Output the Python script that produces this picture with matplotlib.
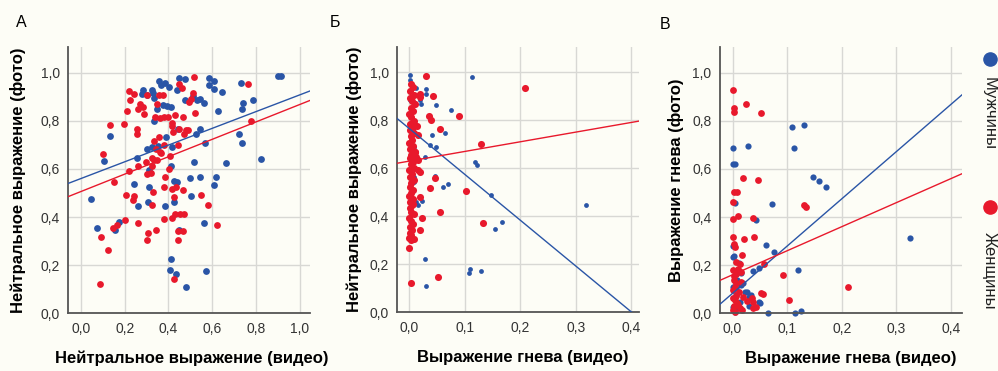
import matplotlib.pyplot as plt
from matplotlib.lines import Line2D
import numpy as np

plt.rcParams['font.family'] = ['Liberation Sans', 'DejaVu Sans']

BLUE = '#2a55a6'
RED = '#e8192c'
BG = '#fdfdf6'

# ---- panel A: neutral video vs neutral photo
a_m_x = [0.285, 0.280, 0.303, 0.326, 0.327, 0.358, 0.364, 0.384, 0.403, 0.437, 0.449, 0.476,
         0.475, 0.510, 0.530, 0.543, 0.562, 0.583, 0.586, 0.607, 0.607, 0.645, 0.729, 0.738,
         0.737, 0.787, 0.901, 0.912, 0.333, 0.347, 0.373, 0.391, 0.411, 0.332, 0.388, 0.444,
         0.524, 0.546, 0.565, 0.626, 0.723, 0.734, 0.822, 0.662, 0.304, 0.326, 0.352, 0.417,
         0.257, 0.309, 0.105, 0.134, 0.046, 0.075, 0.157, 0.175, 0.244, 0.263, 0.306, 0.309,
         0.384, 0.425, 0.441, 0.449, 0.496, 0.505, 0.543, 0.606, 0.619, 0.563, 0.569, 0.411,
         0.406, 0.434, 0.481, 0.517, 0.411, 0.426]
a_m_y = [0.928, 0.913, 0.908, 0.929, 0.917, 0.965, 0.947, 0.958, 0.939, 0.928, 0.979, 0.974,
         0.886, 0.903, 0.886, 0.889, 0.875, 0.979, 0.947, 0.967, 0.933, 0.919, 0.958, 0.875,
         0.847, 0.888, 0.988, 0.988, 0.896, 0.851, 0.865, 0.861, 0.857, 0.801, 0.733, 0.764,
         0.746, 0.764, 0.706, 0.842, 0.747, 0.708, 0.642, 0.625, 0.681, 0.692, 0.697, 0.692,
         0.644, 0.597, 0.633, 0.736, 0.476, 0.353, 0.346, 0.379, 0.538, 0.447, 0.461, 0.524,
         0.444, 0.461, 0.544, 0.347, 0.563, 0.489, 0.565, 0.535, 0.567, 0.375, 0.174, 0.225,
         0.181, 0.165, 0.108, 0.628, 0.611, 0.549]
a_f_x = [0.221, 0.242, 0.224, 0.272, 0.282, 0.263, 0.303, 0.346, 0.356, 0.376, 0.449, 0.460,
         0.510, 0.505, 0.518, 0.522, 0.495, 0.761, 0.775, 0.132, 0.196, 0.212, 0.257, 0.257,
         0.288, 0.338, 0.361, 0.381, 0.399, 0.428, 0.464, 0.417, 0.416, 0.422, 0.447, 0.479,
         0.487, 0.470, 0.336, 0.355, 0.381, 0.342, 0.361, 0.323, 0.333, 0.346, 0.365, 0.406,
         0.403, 0.444, 0.297, 0.323, 0.263, 0.219, 0.318, 0.301, 0.103, 0.151, 0.205, 0.242,
         0.239, 0.327, 0.324, 0.259, 0.306, 0.303, 0.345, 0.379, 0.385, 0.414, 0.425, 0.434,
         0.467, 0.452, 0.429, 0.416, 0.444, 0.469, 0.549, 0.580, 0.621, 0.145, 0.163, 0.093,
         0.123, 0.087, 0.202, 0.379, 0.444, 0.426, 0.467]
a_f_y = [0.924, 0.912, 0.888, 0.868, 0.858, 0.851, 0.906, 0.871, 0.906, 0.906, 0.951, 0.938,
         0.917, 0.889, 0.981, 0.831, 0.878, 0.953, 0.800, 0.782, 0.788, 0.840, 0.764, 0.747,
         0.828, 0.815, 0.813, 0.817, 0.817, 0.826, 0.815, 0.792, 0.778, 0.753, 0.764, 0.761,
         0.761, 0.747, 0.715, 0.733, 0.701, 0.681, 0.669, 0.646, 0.636, 0.639, 0.667, 0.653,
         0.601, 0.699, 0.629, 0.611, 0.611, 0.593, 0.583, 0.579, 0.660, 0.546, 0.493, 0.486,
         0.472, 0.504, 0.449, 0.375, 0.332, 0.303, 0.347, 0.525, 0.567, 0.517, 0.483, 0.524,
         0.514, 0.414, 0.411, 0.397, 0.344, 0.414, 0.493, 0.449, 0.369, 0.354, 0.369, 0.319,
         0.264, 0.121, 0.389, 0.392, 0.306, 0.144, 0.343]

# ---- panel B: anger video vs neutral photo
b_m_x = [0.001, 0.002, 0.005, 0.013, 0.015, 0.031, 0.031, 0.022, 0.049, 0.075, 0.041, 0.064,
         0.037, 0.049, 0.028, 0.047, 0.061, 0.070, 0.118, 0.123, 0.147, 0.168, 0.155, 0.319,
         0.114, 0.023, 0.028, 0.031, 0.107, 0.110, 0.129, 0.002, 0.008, 0.009, 0.013, 0.015,
         0.002, 0.005, 0.009, 0.007, 0.002, 0.011, 0.020]
b_m_y = [0.989, 0.968, 0.947, 0.933, 0.906, 0.929, 0.910, 0.868, 0.863, 0.842, 0.738, 0.746,
         0.697, 0.690, 0.649, 0.568, 0.521, 0.533, 0.625, 0.613, 0.490, 0.375, 0.349, 0.446,
         0.982, 0.464, 0.224, 0.110, 0.165, 0.179, 0.174, 0.565, 0.544, 0.565, 0.461, 0.447,
         0.399, 0.663, 0.690, 0.760, 0.885, 0.871, 0.885]
b_f_x = [0.030, 0.043, 0.019, 0.020, 0.036, 0.039, 0.056, 0.090, 0.129, 0.209, 0.103, 0.046,
         0.037, 0.056, 0.023, 0.019, 0.133, 0.052, 0.003, 0.000, 0.015, 0.014, 0.009, 0.019,
         0.015, 0.013, 0.016, 0.011, 0.019,
         0.004, 0.006, 0.002, 0.008, 0.001, 0.005, 0.010, 0.003, 0.007, 0.000, 0.004, 0.009,
         0.002, 0.006, 0.001, 0.008, 0.003, 0.005, 0.000, 0.007, 0.002, 0.010, 0.004, 0.001,
         0.006, 0.003, 0.008, 0.000, 0.005, 0.002, 0.009, 0.004, 0.001, 0.006, 0.003, 0.000,
         0.007, 0.002, 0.005, 0.001, 0.004, 0.008, 0.000, 0.003, 0.006, 0.002, 0.005, 0.001,
         0.004, 0.000, 0.003, 0.007]
b_f_y = [0.983, 0.903, 0.910, 0.899, 0.818, 0.801, 0.765, 0.819, 0.701, 0.936, 0.507, 0.560,
         0.519, 0.419, 0.393, 0.343, 0.371, 0.146, 0.121, 0.267, 0.739, 0.776, 0.304, 0.586,
         0.593, 0.649, 0.635, 0.669, 0.480,
         0.952, 0.937, 0.921, 0.905, 0.893, 0.879, 0.868, 0.851, 0.838, 0.826, 0.812, 0.797,
         0.785, 0.772, 0.760, 0.747, 0.733, 0.719, 0.706, 0.694, 0.681, 0.668, 0.656, 0.642,
         0.628, 0.617, 0.603, 0.591, 0.577, 0.563, 0.550, 0.538, 0.524, 0.511, 0.497, 0.486,
         0.472, 0.458, 0.446, 0.433, 0.419, 0.408, 0.394, 0.381, 0.369, 0.356, 0.344, 0.332,
         0.321, 0.311, 0.302, 0.452]

# ---- panel C: anger video vs anger photo
c_m_x = [0.000, 0.000, 0.004, 0.028, 0.109, 0.131, 0.112, 0.148, 0.158, 0.171, 0.072, 0.004,
         0.043, 0.062, 0.076, 0.324, 0.120, 0.038, 0.049, 0.000, 0.000, 0.012, 0.015, 0.016,
         0.000, 0.023, 0.031, 0.049, 0.031, 0.065, 0.115, 0.125, 0.004, 0.009, 0.006, 0.013,
         0.001, 0.010, 0.020, 0.026, 0.034, 0.050, 0.003, 0.006]
c_m_y = [0.688, 0.619, 0.619, 0.697, 0.776, 0.783, 0.688, 0.567, 0.551, 0.524, 0.456, 0.458,
         0.389, 0.285, 0.256, 0.311, 0.181, 0.174, 0.190, 0.236, 0.278, 0.208, 0.167, 0.118,
         0.111, 0.090, 0.069, 0.049, 0.031, 0.003, 0.003, 0.011, 0.007, 0.139, 0.076, 0.049,
         0.028, 0.021, 0.125, 0.090, 0.076, 0.042, 0.239, 0.104]
c_f_x = [0.000, 0.002, 0.002, 0.024, 0.053, 0.020, 0.046, 0.003, 0.009, 0.000, 0.010, 0.001,
         0.037, 0.021, 0.039, 0.000, 0.003, 0.005, 0.018, 0.131, 0.134, 0.092, 0.057, 0.056,
         0.104, 0.212, 0.043, 0.038, 0.007, 0.013, 0.010, 0.015, 0.006, 0.002, 0.000, 0.016,
         0.007, 0.004, 0.001, 0.012, 0.020, 0.000, 0.005, 0.008, 0.002, 0.013, 0.017, 0.004,
         0.035, 0.038, 0.053, 0.027, 0.010, 0.000, 0.006, 0.003]
c_f_y = [0.928, 0.854, 0.836, 0.871, 0.831, 0.564, 0.556, 0.504, 0.503, 0.461, 0.406, 0.390,
         0.396, 0.308, 0.317, 0.319, 0.289, 0.275, 0.243, 0.451, 0.440, 0.160, 0.206, 0.081,
         0.056, 0.108, 0.028, 0.049, 0.215, 0.206, 0.185, 0.172, 0.165, 0.155, 0.180, 0.132,
         0.125, 0.111, 0.098, 0.090, 0.067, 0.062, 0.055, 0.042, 0.030, 0.021, 0.012, 0.005,
         0.062, 0.021, 0.083, 0.053, 0.035, 0.015, 0.072, 0.140]

# regression lines: (intercept, slope)
fit_a = {'m': (0.560, 0.348), 'f': (0.506, 0.362)}
fit_b = {'m': (0.766, -1.91), 'f': (0.630, 0.403)}
fit_c = {'m': (0.083, 1.964), 'f': (0.160, 1.000)}

yticks = [0.0, 0.2, 0.4, 0.6, 0.8, 1.0]
ylabels = ['0,0', '0,2', '0,4', '0,6', '0,8', '1,0']
xticks_a = [0.0, 0.2, 0.4, 0.6, 0.8, 1.0]
xlabels_a = ['0,0', '0,2', '0,4', '0,6', '0,8', '1,0']
xticks_bc = [0.0, 0.1, 0.2, 0.3, 0.4]
xlabels_bc = ['0,0', '0,1', '0,2', '0,3', '0,4']

fig = plt.figure(figsize=(9.98, 3.71), dpi=100, facecolor=BG)


def panel(rect, mx, my, fx, fy, fit, xlim, xt, xl, xlab, ylab, letter, lpos, sm, sf,
          ypad, xlab_x):
    ax = fig.add_axes(rect, facecolor=BG)
    ax.set_xlim(*xlim)
    ax.set_ylim(0, 1.107)
    ax.set_xticks(xt)
    ax.set_xticklabels(xl)
    ax.set_yticks(yticks)
    ax.set_yticklabels(ylabels)
    ax.grid(True, color='#d8d8d4', lw=1.0, zorder=0)
    ax.set_axisbelow(True)
    for s in ['top', 'right']:
        ax.spines[s].set_visible(False)
    for s in ['left', 'bottom']:
        ax.spines[s].set_color('#555555')
        ax.spines[s].set_linewidth(1.3)
    ax.tick_params(length=0, labelsize=10, colors='#333333', pad=6)
    ax.scatter(mx, my, s=sm, color=BLUE, lw=0, zorder=2, clip_on=False)
    ax.scatter(fx, fy, s=sf, color=RED, lw=0, zorder=2, clip_on=False)
    xs = np.array(xlim)
    for k, c in [('m', BLUE), ('f', RED)]:
        b0, b1 = fit[k]
        ys = b0 + b1 * xs
        ax.plot(xs, ys, color=c, lw=1.0, zorder=3)
    ax.set_xlabel(xlab, fontsize=12, fontweight='bold', labelpad=11)
    ax.xaxis.label.set_x(xlab_x)
    ax.set_ylabel(ylab, fontsize=12, fontweight='bold', labelpad=ypad)
    fig.text(lpos[0], lpos[1], letter, fontsize=11.5, ha='center', va='center')
    return ax


panel([0.0681, 0.1555, 0.2425, 0.718], a_m_x, a_m_y, a_f_x, a_f_y, fit_a,
      (-0.059, 1.046), xticks_a, xlabels_a,
      'Нейтральное выражение (видео)', 'Нейтральное выражение (фото)', 'А', (0.021, 0.94), 24, 24,
      10, 0.51)
panel([0.3978, 0.1582, 0.2425, 0.716], b_m_x, b_m_y, b_f_x, b_f_y, fit_b,
      (-0.022, 0.414), xticks_bc, xlabels_bc,
      'Выражение гнева (видео)', 'Нейтральное выражение (фото)', 'Б', (0.336, 0.94), 12, 26,
      5, 0.52)
panel([0.7214, 0.1555, 0.2425, 0.718], c_m_x, c_m_y, c_f_x, c_f_y, fit_c,
      (-0.023, 0.42), xticks_bc, xlabels_bc,
      'Выражение гнева (видео)', 'Выражение гнева (фото)', 'В', (0.666, 0.935), 20, 24,
      6, 0.54)

# legend on the right
fig.add_artist(Line2D([0.9915], [0.841], marker='o', ms=9.5, color=BLUE, lw=0,
                      transform=fig.transFigure))
fig.add_artist(Line2D([0.9915], [0.442], marker='o', ms=9.5, color=RED, lw=0,
                      transform=fig.transFigure))
fig.text(0.9915, 0.695, 'Мужчины', rotation=-90, fontsize=12, ha='center', va='center', color='#222222')
fig.text(0.9915, 0.27, 'Женщины', rotation=-90, fontsize=12, ha='center', va='center', color='#222222')

fig.savefig('out.png', dpi=100, facecolor=BG)
